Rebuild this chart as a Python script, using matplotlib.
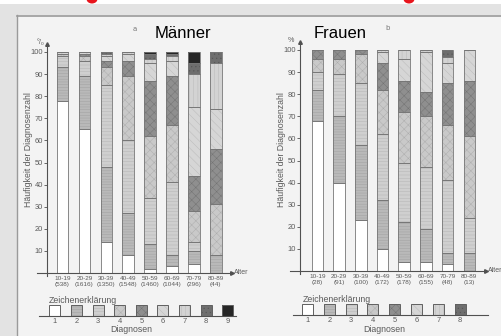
import matplotlib
matplotlib.use('Agg')
import matplotlib.pyplot as plt
from matplotlib.patches import Rectangle, Ellipse
import numpy as np

# ---------------- data ----------------
age_groups = ['10-19', '20-29', '30-39', '40-49', '50-59', '60-69', '70-79', '80-89']
men_counts = ['(538)', '(1616)', '(1350)', '(1548)', '(1460)', '(1044)', '(296)', '(44)']
women_counts = ['(28)', '(91)', '(100)', '(172)', '(178)', '(155)', '(48)', '(13)']

# share (%) of diagnoses 1..9 per age group, bottom to top
men_10_19 = [78, 15, 5, 1, 0, 1, 0, 0, 0]
men_20_29 = [65, 24, 7, 2, 1, 1, 0, 0, 0]
men_30_39 = [14, 34, 37, 8, 3, 2, 1, 1, 0]
men_40_49 = [8, 19, 33, 29, 7, 3, 1, 0, 0]
men_50_59 = [2, 11, 21, 28, 25, 8, 2, 2, 1]
men_60_69 = [3, 5, 33, 26, 22, 7, 2, 1, 1]
men_70_79 = [4, 6, 4, 14, 16, 31, 15, 5, 5]
men_80_89 = [0, 8, 0, 23, 25, 18, 21, 5, 0]

# share (%) of diagnoses 1..8 per age group, bottom to top
women_10_19 = [68, 14, 8, 6, 4, 0, 0, 0]
women_20_29 = [40, 30, 19, 7, 4, 0, 0, 0]
women_30_39 = [23, 34, 28, 13, 2, 0, 0, 0]
women_40_49 = [10, 22, 30, 20, 12, 5, 1, 0]
women_50_59 = [4, 18, 27, 23, 14, 10, 4, 0]
women_60_69 = [4, 15, 28, 23, 11, 18, 1, 0]
women_70_79 = [3, 5, 33, 25, 19, 9, 3, 3]
women_80_89 = [0, 8, 16, 37, 25, 14, 0, 0]

men_pct = np.array([men_10_19, men_20_29, men_30_39, men_40_49,
                    men_50_59, men_60_69, men_70_79, men_80_89], dtype=float)
women_pct = np.array([women_10_19, women_20_29, women_30_39, women_40_49,
                      women_50_59, women_60_69, women_70_79, women_80_89], dtype=float)

y_ticks = [10, 20, 30, 40, 50, 60, 70, 80, 90, 100]

# ---------------- styles ----------------
# face colour, hatch, hatch colour for diagnoses 1..9
diag_style = [
    ('#ffffff', '', '#ffffff'),
    ('#b9b9b9', '------', '#a2a2a2'),
    ('#cfcfcf', '-----', '#b6b6b6'),
    ('#c9c9c9', 'xxxx', '#adadad'),
    ('#8f8f8f', 'xxxx', '#737373'),
    ('#d6d6d6', '\\\\\\\\', '#bbbbbb'),
    ('#d3d3d3', '||||', '#b9b9b9'),
    ('#6e6e6e', '....', '#565656'),
    ('#262626', '', '#262626'),
]

plt.rcParams['hatch.linewidth'] = 0.35
TXT = '#5a5a5a'
FAM = ['Liberation Sans', 'DejaVu Sans']

W, H = 502, 336
fig = plt.figure(figsize=(W / 100, H / 100), dpi=100)
fig.patch.set_facecolor('#e3e3e3')

def px_axes(x0, y0, x1, y1, **kw):
    return fig.add_axes([x0 / W, 1 - y1 / H, (x1 - x0) / W, (y1 - y0) / H], **kw)

# background / page
bg = px_axes(0, 0, W, H, zorder=-10)
bg.set_xlim(0, W); bg.set_ylim(H, 0); bg.axis('off')
bg.add_patch(Rectangle((0, 0), W, 4, facecolor='white', edgecolor='none'))
bg.add_patch(Rectangle((17, 15), W - 17, H - 15, facecolor='#f3f3f3', edgecolor='none'))
bg.plot([17, W], [15.5, 15.5], color='#9a9a9a', lw=1.2)
bg.plot([17.5, 17.5], [15, H], color='#9a9a9a', lw=1.0)
bg.add_patch(Ellipse((92, -1), 11, 9, facecolor='#e8141c', edgecolor='none'))
bg.add_patch(Ellipse((409, -1), 11, 9, facecolor='#e8141c', edgecolor='none'))


def draw_panel(ax, pct, counts, xlim, ndiag, pct_label, pct_xy):
    ax.set_facecolor('none')
    ax.set_xlim(*xlim)
    ax.set_ylim(0, 100)
    for s in ax.spines.values():
        s.set_visible(False)
    x = np.arange(len(age_groups))
    bw = 0.53
    bottom = np.zeros(len(age_groups))
    for k in range(ndiag):
        fc, hatch, hc = diag_style[k]
        vals = pct[:, k]
        ax.bar(x, vals, bottom=bottom, width=bw, color=fc, hatch=hatch,
               edgecolor=hc, linewidth=0, zorder=2)
        bottom = bottom + vals
    bottom = np.zeros(len(age_groups))
    for k in range(ndiag):
        vals = pct[:, k]
        ax.bar(x, vals, bottom=bottom, width=bw, fill=False,
               edgecolor='#767676', linewidth=0.6, zorder=3)
        bottom = bottom + vals
    # axes lines
    x0, x1 = xlim
    ax.plot([x0, x0], [-1.5, 103.5], color='#505050', lw=0.8, clip_on=False, zorder=4)
    ax.plot([x0], [103.5], marker='^', ms=2.6, color='#505050', clip_on=False, zorder=4)
    ax.plot([x0 - 0.45, x1], [0, 0], color='#505050', lw=0.8, clip_on=False, zorder=4)
    ax.plot([x1], [0], marker='>', ms=2.6, color='#505050', clip_on=False, zorder=4)
    ax.set_yticks(y_ticks)
    ax.set_yticklabels([str(v) for v in y_ticks], fontsize=5.4, color=TXT,
                       family=FAM)
    ax.tick_params(axis='y', length=2.2, width=0.6, color='#505050', pad=0.6)
    ax.set_xticks(x)
    ax.set_xticklabels([f'{a}\n{c}' for a, c in zip(age_groups, counts)],
                       fontsize=4.6, color=TXT, family=FAM, linespacing=1.1)
    ax.tick_params(axis='x', length=0, pad=2.5)
    ax.text(x1 + 0.08, 0, 'Alter', fontsize=5.0, color=TXT, family=FAM,
            ha='left', va='center', clip_on=False)
    ax.text(pct_xy[0], pct_xy[1], pct_label, fontsize=5.2, color=TXT,
            ha='center', va='bottom', family=FAM,
            transform=ax.transData, clip_on=False)


ax_m = px_axes(47, 52, 232, 273)
draw_panel(ax_m, men_pct, men_counts, (-0.71, 7.74), 9, '°/₀', (-1.0, 102.5))
ax_w = px_axes(300, 50, 486, 271)
draw_panel(ax_w, women_pct, women_counts, (-0.8, 7.77), 8, '%', (-1.2, 102.5))

# overlay for titles and legends
ov = px_axes(0, 0, W, H, zorder=10)
ov.set_xlim(0, W); ov.set_ylim(H, 0); ov.axis('off'); ov.set_facecolor('none')

ov.text(183, 33, 'Männer', fontsize=12, family='Liberation Sans', ha='center', va='center', color='black')
ov.text(340, 33, 'Frauen', fontsize=12, family='Liberation Sans', ha='center', va='center', color='black')
ov.text(135, 29, 'a', fontsize=5, color='#777777', ha='center', va='center')
ov.text(388, 28, 'b', fontsize=5, color='#777777', ha='center', va='center')

for xl, yl in [(29, 150), (282, 150)]:
    ov.text(xl, yl, 'Häufigkeit der Diagnosenzahl', rotation=90, fontsize=6.3,
            color=TXT, family=FAM, ha='center', va='center')


def legend(cx0, step, n, ybot, line_x, title_x, diag_x):
    bs = 11
    for i in range(n):
        fc, hatch, hc = diag_style[i]
        cx = cx0 + i * step
        ov.add_patch(Rectangle((cx - bs / 2, ybot - bs), bs, bs, facecolor=fc,
                               hatch=hatch, edgecolor=hc, linewidth=0))
        ov.add_patch(Rectangle((cx - bs / 2, ybot - bs), bs, bs, fill=False,
                               edgecolor='#606060', linewidth=0.7))
        ov.text(cx, ybot + 5.5, str(i + 1), fontsize=5.4, color=TXT,
                family=FAM, ha='center', va='center')
    ov.plot(line_x, [ybot, ybot], color='#505050', lw=0.8)
    ov.text(title_x, ybot - 15.5, 'Zeichenerklärung', fontsize=6.3, color=TXT,
            family=FAM, ha='left', va='center')
    ov.text(diag_x, ybot + 14, 'Diagnosen', fontsize=6.3, color=TXT,
            family=FAM, ha='center', va='center')


legend(55, 21.6, 9, 316, [39, 236], 49, 131)
legend(307.7, 21.76, 8, 315, [293, 488], 303, 384)

fig.savefig('out.png', dpi=100, facecolor=fig.get_facecolor())
